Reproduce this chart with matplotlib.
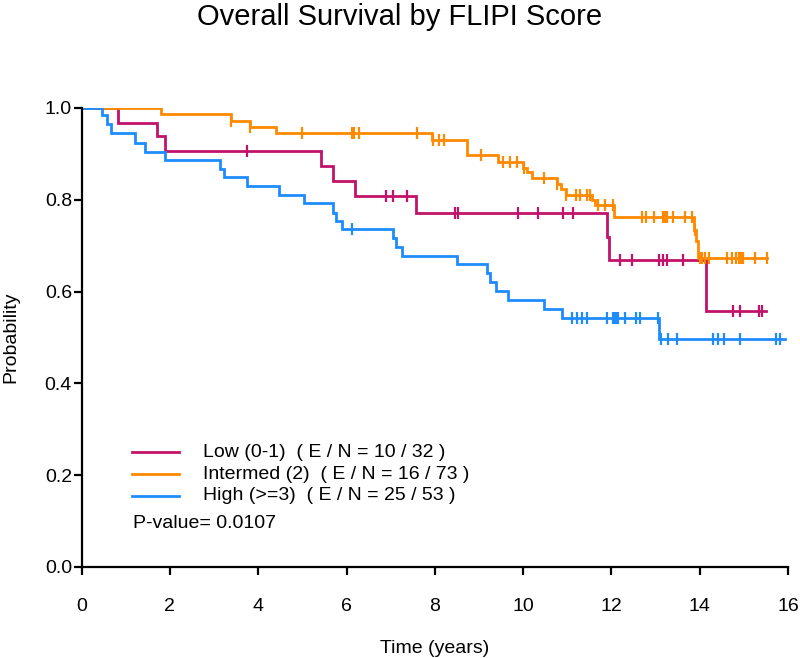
import numpy as np
import matplotlib
matplotlib.use('Agg')
import matplotlib.pyplot as plt

plt.rcParams['font.family'] = ['Liberation Sans', 'DejaVu Sans']

# ---- data (step times / survival / censor times) ----
low_t = [0, 0.82, 1.71, 1.89, 5.43, 5.70, 6.19, 7.58, 11.90, 11.94, 14.14]
low_s = [1.0, 0.968, 0.938, 0.906, 0.874, 0.841, 0.809, 0.772, 0.720, 0.669, 0.558]
low_cens = [3.75, 6.90, 7.05, 7.37, 8.46, 8.53, 9.89, 10.34, 10.91, 11.13,
            12.19, 12.47, 13.08, 13.17, 13.26, 13.62, 14.75, 14.91, 15.34, 15.41]
low_end = 15.50

int_t = [0, 1.80, 3.39, 3.82, 4.41, 7.94, 8.73, 9.43, 10.00, 10.09, 10.20,
         10.77, 10.85, 10.97, 11.55, 11.63, 12.06, 13.86, 13.92, 13.96]
int_s = [1.0, 0.987, 0.972, 0.959, 0.945, 0.930, 0.898, 0.882, 0.869, 0.861, 0.848,
         0.834, 0.823, 0.810, 0.799, 0.788, 0.762, 0.735, 0.710, 0.673]
int_cens = [3.39, 3.82, 5.00, 6.12, 6.16, 6.29, 7.60, 7.97, 8.10, 8.21, 9.05,
            9.55, 9.70, 9.86, 10.03, 10.48, 10.77, 10.97, 11.20, 11.30, 11.45,
            11.52, 11.70, 11.85, 12.04, 12.69, 12.78, 12.97, 13.17, 13.21, 13.26,
            13.40, 13.67, 13.82, 13.90, 14.00, 14.06, 14.12, 14.20, 14.62, 14.73,
            14.82, 14.88, 14.94, 14.98, 15.25, 15.52]
int_end = 15.52

high_t = [0, 0.46, 0.58, 0.67, 1.21, 1.43, 1.89, 3.14, 3.23, 3.75, 4.47, 5.04,
          5.69, 5.77, 5.90, 7.05, 7.12, 7.26, 8.50, 9.18, 9.25, 9.38, 9.66,
          10.47, 10.88, 13.08]
high_s = [1.0, 0.985, 0.965, 0.945, 0.924, 0.904, 0.887, 0.868, 0.849, 0.830,
          0.811, 0.792, 0.772, 0.754, 0.736, 0.716, 0.697, 0.678, 0.660, 0.640,
          0.621, 0.601, 0.582, 0.562, 0.542, 0.497]
high_cens = [6.12, 11.11, 11.22, 11.33, 11.45, 11.90, 12.04, 12.08, 12.12, 12.15,
             12.31, 12.56, 12.65, 13.06, 13.12, 13.28, 13.48, 14.30, 14.41, 14.55,
             14.91, 15.73, 15.82]
high_end = 15.93

labels = ['Low (0-1)  ( E / N = 10 / 32 )',
          'Intermed (2)  ( E / N = 16 / 73 )',
          'High (>=3)  ( E / N = 25 / 53 )']
colors = ['#C2126A', '#FF8A00', '#1E8CFF']
p_text = 'P-value= 0.0107'

fig = plt.figure(figsize=(8, 6.58), dpi=100)
ax = fig.add_axes([0.102, 0.1383, 0.883, 0.6976])

groups = [(low_t, low_s, low_cens, low_end),
          (int_t, int_s, int_cens, int_end),
          (high_t, high_s, high_cens, high_end)]

for (t, s, c, end), col in zip(groups, colors):
    tt = list(t) + [end]
    ss = list(s) + [s[-1]]
    ax.step(tt, ss, where='post', color=col, lw=2.0, solid_joinstyle='miter')
    idx = np.searchsorted(t, c, side='right') - 1
    cy = np.array(s)[idx]
    ax.plot(c, cy, ls='none', marker='|', ms=8, mew=1.6, color=col)

ax.set_xlim(0, 16)
ax.set_ylim(0, 1.0)
ax.set_xticks(np.arange(0, 17, 2))
ax.set_yticks(np.arange(0, 1.01, 0.2))
ax.set_yticklabels(['0.0', '0.2', '0.4', '0.6', '0.8', '1.0'])

for side in ['top', 'right']:
    ax.spines[side].set_visible(False)
for side in ['left', 'bottom']:
    ax.spines[side].set_linewidth(1.6)
ax.tick_params(axis='x', length=6, width=1.6, pad=16, labelsize=14)
ax.tick_params(axis='y', length=6, width=1.6, pad=1, labelsize=14)

ax.set_xlabel('Time (years)', fontsize=14, labelpad=18)
ax.set_ylabel('Probability', fontsize=14, labelpad=18)

fig.suptitle('Overall Survival by FLIPI Score', fontsize=21, y=0.995, va='top')

# legend drawn by hand
leg_y = [0.2505, 0.2026, 0.1547]
for y, col, lab in zip(leg_y, colors, labels):
    ax.plot([0.0713, 0.138], [y, y], color=col, lw=2.0, transform=ax.transAxes,
            clip_on=False)
    ax.text(0.172, y, lab, transform=ax.transAxes, va='center', ha='left',
            fontsize=14)
ax.text(0.0728, 0.0937, p_text, transform=ax.transAxes, va='center', ha='left',
        fontsize=14)

fig.savefig('out.png', dpi=100, facecolor='white')
